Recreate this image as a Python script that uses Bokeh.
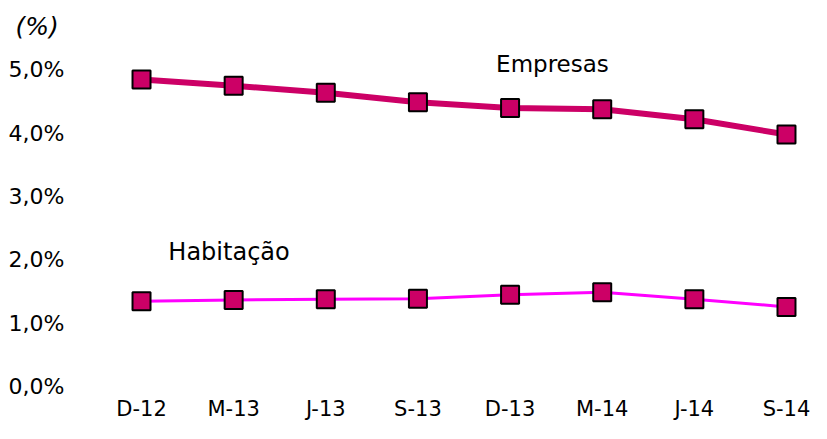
from bokeh.plotting import figure
from bokeh.models import Range1d, FixedTicker, Label, ColumnDataSource
from bokeh.embed import file_html
from bokeh.resources import INLINE

categories = ["D-12", "M-13", "J-13", "S-13", "D-13", "M-14", "J-14", "S-14"]
empresas = [4.85, 4.75, 4.64, 4.49, 4.40, 4.38, 4.22, 3.98]
habitacao = [1.35, 1.37, 1.38, 1.39, 1.45, 1.49, 1.38, 1.26]
y_ticks = [0, 1, 2, 3, 4, 5]
y_tick_labels = ["0,0%", "1,0%", "2,0%", "3,0%", "4,0%", "5,0%"]

FONT = "DejaVu Sans"
xs = list(range(len(categories)))

p = figure(width=811, height=423, output_backend="svg", toolbar_location=None,
           x_range=Range1d(-0.532, 7.228), y_range=Range1d(-0.154, 5.432),
           min_border_left=92, min_border_right=4, min_border_top=42, min_border_bottom=19)
p.outline_line_color = None
p.xgrid.grid_line_color = None
p.ygrid.grid_line_color = None
p.background_fill_color = "white"

p.title.text = "(%)"
p.title.text_font = FONT
p.title.text_font_style = "italic"
p.title.text_font_size = "25px"
p.title.text_color = "black"
p.title.align = "left"
p.title.offset = -77
p.title.standoff = 4

xa = p.xaxis[0]
xa.ticker = FixedTicker(ticks=xs)
xa.major_label_overrides = {i: c for i, c in enumerate(categories)}
xa.axis_line_color = None
xa.major_tick_line_color = None
xa.minor_tick_line_color = None
xa.major_tick_out = 0
xa.major_tick_in = 0
xa.major_label_standoff = 0
xa.major_label_text_font = FONT
xa.major_label_text_font_size = "21px"
xa.major_label_text_color = "black"

ya = p.yaxis[0]
ya.ticker = FixedTicker(ticks=y_ticks)
ya.major_label_overrides = {t: l for t, l in zip(y_ticks, y_tick_labels)}
ya.axis_line_color = None
ya.major_tick_line_color = None
ya.minor_tick_line_color = None
ya.major_tick_out = 0
ya.major_tick_in = 0
ya.major_label_standoff = 28
ya.major_label_text_font = FONT
ya.major_label_text_font_size = "22px"
ya.major_label_text_color = "black"

src = ColumnDataSource(dict(x=xs, emp=empresas, hab=habitacao))

p.line("x", "emp", source=src, line_color="#CC0066", line_width=6)
p.line("x", "hab", source=src, line_color="#FF00FF", line_width=3)
p.scatter("x", "emp", source=src, marker="square", size=18,
          fill_color="#CC0066", line_color="black", line_width=2)
p.scatter("x", "hab", source=src, marker="square", size=18,
          fill_color="#CC0066", line_color="black", line_width=2)

p.add_layout(Label(x=4.46, y=5.1, text="Empresas", text_font=FONT,
                   text_font_size="23px", text_align="center", text_baseline="middle",
                   text_color="black"))
p.add_layout(Label(x=0.95, y=2.13, text="Habitação", text_font=FONT,
                   text_font_size="24px", text_align="center", text_baseline="middle",
                   text_color="black"))

open("out.html", "w").write(file_html(p, INLINE))
